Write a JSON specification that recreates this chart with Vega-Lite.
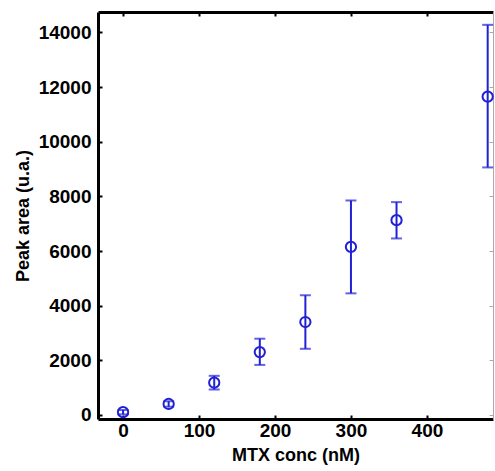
{
  "$schema": "https://vega.github.io/schema/vega-lite/v6.json",
  "width": 395,
  "height": 407,
  "autosize": "none",
  "padding": {"left": 98, "top": 12, "right": 2, "bottom": 52},
  "background": "white",
  "config": {
    "view": {"stroke": null},
    "font": "Liberation Sans",
    "axis": {
      "grid": false,
      "domainColor": "black",
      "domainWidth": 3,
      "tickColor": "black",
      "tickWidth": 2,
      "tickSize": -4,
      "format": "d",
      "labelFont": "Liberation Sans",
      "labelFontWeight": "bold",
      "labelFontSize": 19,
      "labelColor": "black",
      "titleFont": "Liberation Sans",
      "titleFontWeight": "bold",
      "titleFontSize": 18,
      "titleColor": "black"
    }
  },
  "data": {
    "values": [
      {"conc": 0, "area": 100, "lo": 20, "hi": 180},
      {"conc": 60, "area": 400, "lo": 300, "hi": 500},
      {"conc": 120, "area": 1180, "lo": 930, "hi": 1430},
      {"conc": 180, "area": 2300, "lo": 1830, "hi": 2790},
      {"conc": 240, "area": 3400, "lo": 2420, "hi": 4380},
      {"conc": 300, "area": 6150, "lo": 4450, "hi": 7850},
      {"conc": 360, "area": 7130, "lo": 6460, "hi": 7790},
      {"conc": 480, "area": 11650, "lo": 9060, "hi": 14280}
    ]
  },
  "layer": [
    {
      "mark": {"type": "point", "opacity": 0},
      "encoding": {
        "x": {"field": "conc", "type": "quantitative", "scale": {"domain": [-33, 487], "nice": false, "zero": false},
          "axis": {"orient": "top", "values": [0, 100, 200, 300, 400], "labels": false, "title": null, "domainWidth": 3}},
        "y": {"field": "area", "type": "quantitative", "scale": {"domain": [-150, 14750], "nice": false, "zero": false},
          "axis": {"orient": "right", "values": [0, 2000, 4000, 6000, 8000, 10000, 12000, 14000], "labels": false, "title": null, "domainWidth": 1, "domainColor": "#aaaaaa", "tickColor": "#aaaaaa", "tickWidth": 1}}
      }
    },
    {
      "mark": {"type": "rule", "color": "#2121d4", "strokeWidth": 2},
      "encoding": {
        "x": {"field": "conc", "type": "quantitative", "scale": {"domain": [-33, 487], "nice": false, "zero": false},
          "axis": {"orient": "bottom", "values": [0, 100, 200, 300, 400], "title": "MTX conc (nM)", "labelPadding": 6, "titlePadding": 6}},
        "y": {"field": "lo", "type": "quantitative", "scale": {"domain": [-150, 14750], "nice": false, "zero": false},
          "axis": {"orient": "left", "values": [0, 2000, 4000, 6000, 8000, 10000, 12000, 14000], "title": "Peak area (u.a.)", "labelPadding": 11, "titlePadding": 6}},
        "y2": {"field": "hi"}
      }
    },
    {
      "mark": {"type": "tick", "orient": "horizontal", "color": "#2121d4", "thickness": 2, "size": 11},
      "encoding": {
        "x": {"field": "conc", "type": "quantitative", "axis": null},
        "y": {"field": "lo", "type": "quantitative", "axis": null}
      }
    },
    {
      "mark": {"type": "tick", "orient": "horizontal", "color": "#2121d4", "thickness": 2, "size": 11},
      "encoding": {
        "x": {"field": "conc", "type": "quantitative", "axis": null},
        "y": {"field": "hi", "type": "quantitative", "axis": null}
      }
    },
    {
      "mark": {"type": "point", "shape": "circle", "filled": false, "color": "#2121d4", "strokeWidth": 2, "size": 105, "opacity": 1},
      "encoding": {
        "x": {"field": "conc", "type": "quantitative", "axis": null},
        "y": {"field": "area", "type": "quantitative", "axis": null}
      }
    }
  ],
  "resolve": {"axis": {"x": "independent", "y": "independent"}}
}
